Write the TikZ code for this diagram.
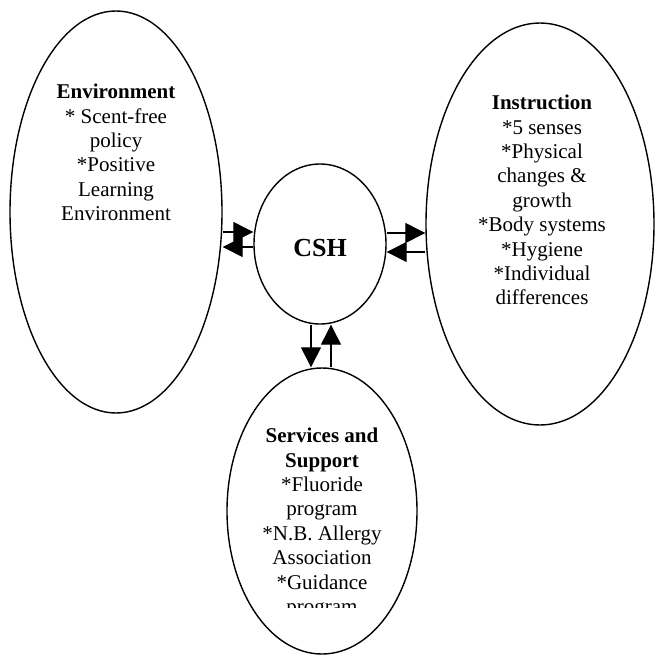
\documentclass[tikz,border=0pt]{standalone}
\usepackage{fontspec}
\setmainfont{Liberation Serif}
\usetikzlibrary{shapes.geometric,arrows.meta}

\begin{document}
\begin{tikzpicture}[x=1pt,y=-1pt,
  oval/.style={draw,ellipse,line width=1.4pt,inner sep=0pt},
  blurb/.style={align=center,font=\fontsize{21}{24.4}\selectfont,inner sep=0pt,anchor=north},
  link/.style={line width=1.3pt,-{Triangle[length=20pt,width=20pt]}}]
\useasboundingbox (0,0) rectangle (654,656);

% the four areas
\node[oval,minimum width=212pt,minimum height=402pt] (env) at (116,212) {};
\node[oval,minimum width=228pt,minimum height=402pt] (ins) at (540,224) {};
\node[oval,minimum width=132pt,minimum height=160pt] (csh) at (320,244) {};
\node[oval,minimum width=190pt,minimum height=286pt] (ss) at (322,511) {};

% texts
\node[blurb] (envtxt) at (116,84) {\textbf{Environment}\\* Scent-free\\policy\\*Positive\\Learning\\Environment};
\node[blurb] (instxt) at (542,95) {\textbf{Instruction}\\*5 senses\\*Physical\\changes \&\\growth\\*Body systems\\*Hygiene\\*Individual\\differences};
\node[font=\bfseries\fontsize{26}{30}\selectfont,inner sep=0pt] (cshtxt) at (320,248) {CSH};
\begin{scope}
  \clip (200,380) rectangle (450,607);
  \node[blurb] (sstxt) at (322,428) {\textbf{Services and}\\\textbf{Support}\\*Fluoride\\program\\*N.B. Allergy\\Association\\*Guidance\\program};
\end{scope}

% two-way links
\draw[link] (env.east |- 0,232) -- (csh.west |- 0,232);
\draw[link] (csh.west |- 0,247) -- (env.east |- 0,247);
\draw[link] (csh.east |- 0,233) -- (ins.west |- 0,233);
\draw[link] (ins.west |- 0,252) -- (csh.east |- 0,252);
\draw[link] (csh.south -| 311,0) -- (ss.north -| 311,0);
\draw[link] (ss.north -| 331,0) -- (csh.south -| 331,0);
\end{tikzpicture}
\end{document}
